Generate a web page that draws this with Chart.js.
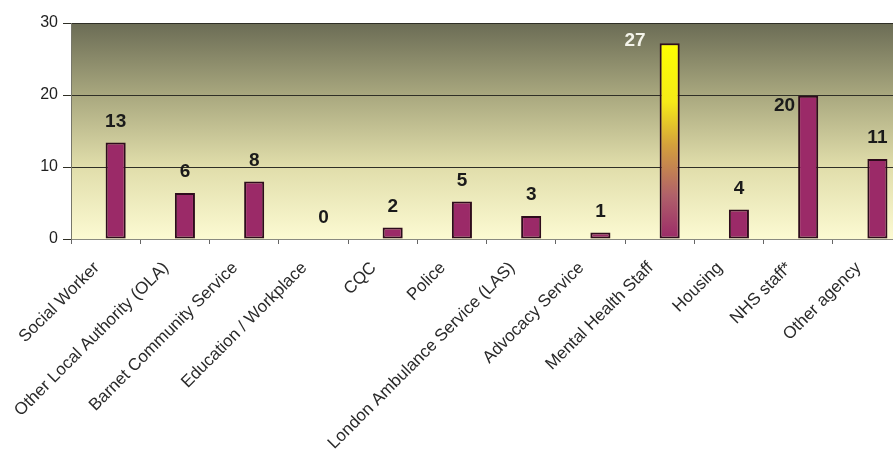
<!DOCTYPE html>
<html>
<head>
<meta charset="utf-8">
<script src="https://cdn.jsdelivr.net/npm/chart.js@4.4.1/dist/chart.umd.min.js"></script>
<style>
  html, body { margin: 0; padding: 0; background: #fff; overflow: hidden; }
  #wrap { position: relative; width: 920px; height: 450px; }
</style>
</head>
<body>
<div id="wrap"><canvas id="myChart"></canvas></div>
<script>
const categories = [
  "Social Worker",
  "Other Local Authority (OLA)",
  "Barnet Community Service",
  "Education / Workplace",
  "CQC",
  "Police",
  "London Ambulance Service (LAS)",
  "Advocacy Service",
  "Mental Health Staff",
  "Housing",
  "NHS staff*",
  "Other agency",
];
const referrals = [13.4, 6.4, 8.0, 0, 1.6, 5.2, 3.2, 0.9, 27.2, 4.1, 19.9, 11.1];
const yTicks = [0, 10, 20, 30];

const FONT = "'Liberation Sans', Arial, sans-serif";
const HIGHLIGHT = 8; // the tall gradient bar

// olive to pale yellow panel behind the bars
const panelBg = {
  id: "panelBg",
  beforeDraw(chart) {
    const { ctx, chartArea: a } = chart;
    const g = ctx.createLinearGradient(0, a.top, 0, a.bottom);
    g.addColorStop(0, "#6b6c55");
    g.addColorStop(0.33, "#a8a77e");
    g.addColorStop(0.66, "#e0ddaa");
    g.addColorStop(1, "#fcfad2");
    ctx.save();
    ctx.fillStyle = g;
    ctx.fillRect(a.left, a.top, a.right - a.left, a.bottom - a.top);
    ctx.restore();
  },
};

// numbers over the bars
const valueLabels = {
  id: "valueLabels",
  afterDatasetsDraw(chart) {
    const { ctx } = chart;
    const meta = chart.getDatasetMeta(1);
    ctx.save();
    ctx.font = "bold 19px " + FONT;
    ctx.textBaseline = "middle";
    meta.data.forEach(function (bar, i) {
      const txt = String(Math.round(referrals[i]));
      if (i == HIGHLIGHT) {
        ctx.fillStyle = "#f4f4ea";
        ctx.textAlign = "right";
        ctx.fillText(txt, bar.x - bar.width / 2 - 14, bar.y - 2);
      } else if (i == 10) {
        ctx.fillStyle = "#1a1a1a";
        ctx.textAlign = "right";
        ctx.fillText(txt, bar.x - bar.width / 2 - 3, bar.y + 10);
      } else {
        ctx.fillStyle = "#1a1a1a";
        ctx.textAlign = "center";
        ctx.fillText(txt, bar.x, bar.y - 21);
      }
    });
    ctx.restore();
  },
};

function barFill(context) {
  if (context.dataIndex != HIGHLIGHT) return "#9b2a68";
  const chart = context.chart;
  if (!chart.chartArea) return "#9b2a68";
  const y = chart.scales.y;
  const top = y.getPixelForValue(referrals[HIGHLIGHT]);
  const g = chart.ctx.createLinearGradient(0, top, 0, y.getPixelForValue(0));
  g.addColorStop(0, "#ffff00");
  g.addColorStop(0.3, "#f6ea18");
  g.addColorStop(0.52, "#d4a03c");
  g.addColorStop(0.78, "#b0606a");
  g.addColorStop(1, "#9b2a68");
  return g;
}

const config = {
  type: "bar",
  data: {
    labels: categories,
    datasets: [
      {
        // empty first series, pushes the real bars right of centre like the original
        label: "",
        data: categories.map(function () { return null; }),
      },
      {
        label: "Referrals",
        data: referrals,
        backgroundColor: barFill,
        borderColor: "#2e0c1c",
        borderWidth: 2,
        borderSkipped: false,
      },
    ],
  },
  options: {
    responsive: true,
    maintainAspectRatio: false,
    animation: false,
    categoryPercentage: 0.58,
    barPercentage: 1,
    layout: { padding: { top: 23, right: 18, left: 0, bottom: 0 } },
    plugins: {
      legend: { display: false },
      tooltip: { enabled: false },
      title: { display: false },
    },
    scales: {
      x: {
        afterFit: function (scale) { scale.height = 211; },
        grid: {
          drawOnChartArea: false,
          tickLength: 5,
          color: "#666",
        },
        border: { color: "#8a8a80", width: 1 },
        ticks: {
          autoSkip: false,
          minRotation: 45,
          maxRotation: 45,
          labelOffset: -9,
          padding: 14,
          color: "#2a2a2a",
          font: { family: FONT, size: 17 },
        },
      },
      y: {
        min: 0,
        max: 30,
        afterFit: function (scale) { scale.width = 71; },
        afterBuildTicks: function (scale) {
          scale.ticks = yTicks.map(function (v) { return { value: v }; });
        },
        grid: {
          color: "#2f2f26",
          lineWidth: 1,
          tickLength: 8,
        },
        border: { color: "#77776a", width: 1 },
        ticks: {
          padding: 5,
          color: "#1f1f1f",
          font: { family: FONT, size: 16 },
        },
      },
    },
  },
  plugins: [panelBg, valueLabels],
};

const myChart = new Chart(document.getElementById("myChart"), config);
</script>
</body>
</html>
